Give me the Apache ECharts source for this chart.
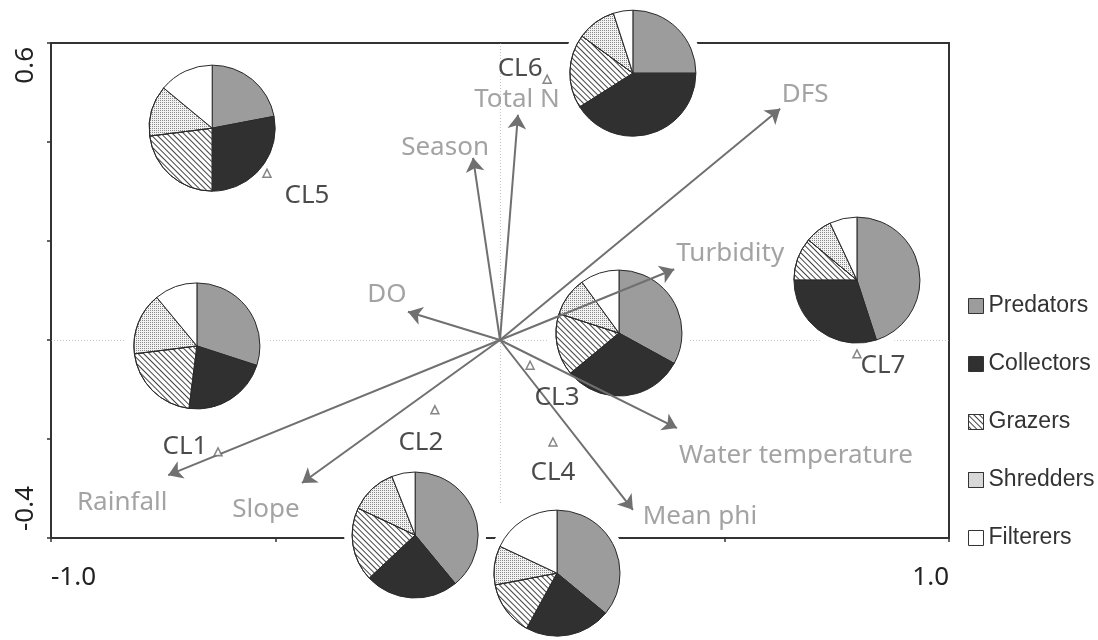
<!DOCTYPE html>
<html><head><meta charset="utf-8">
<script src="https://cdn.jsdelivr.net/npm/echarts@6/dist/echarts.min.js"></script>
<style>html,body{margin:0;padding:0;background:#fff}#c{width:1098px;height:640px}</style>
</head><body><div id="c"></div>
<script>
// ---------- data ----------
const groups = ['Predators', 'Collectors', 'Grazers', 'Shredders', 'Filterers'];
const clusters = ['CL1', 'CL2', 'CL3', 'CL4', 'CL5', 'CL6', 'CL7'];
const siteX = [-0.628, -0.145, 0.067, 0.118, -0.519, 0.105, 0.795];
const siteY = [-0.226, -0.141, -0.051, -0.206, 0.337, 0.527, -0.028];
const pieX = [-0.675, -0.189, 0.265, 0.127, -0.641, 0.296, 0.795];
const pieY = [-0.012, -0.394, 0.014, -0.471, 0.428, 0.539, 0.121];
const predators  = [30, 39, 33, 36, 22, 25, 45];
const collectors = [22, 24, 31, 22, 28, 41, 30];
const grazers    = [21, 19, 16, 14, 23, 19, 11];
const shredders  = [16, 12, 10, 10, 13, 10, 7];
const filterers  = [11, 6, 10, 18, 14, 5, 7];
const envNames = ['Season', 'Total N', 'DFS', 'Turbidity', 'DO', 'Water temperature', 'Mean phi', 'Rainfall', 'Slope'];
const envX = [-0.060, 0.040, 0.624, 0.388, -0.205, 0.394, 0.296, -0.739, -0.441];
const envY = [0.368, 0.455, 0.467, 0.143, 0.057, -0.178, -0.343, -0.273, -0.289];
const xTickLabels = [-1.0, 1.0];
const yTickLabels = [-0.4, 0.6];
const refLineH = [[-1, 0], [1, 0]];
const refLineV = [[0, 0.6], [0, -0.333]];

// ---------- styling (positions / sizes / colours) ----------
const envLabelOffset = {
  'Season': [-28, -10], 'Total N': [-1, -15], 'DFS': [25, -14], 'Turbidity': [56, -16],
  'DO': [-21, -17], 'Water temperature': [119, 27], 'Mean phi': [67, 7],
  'Rainfall': [-46, 27], 'Slope': [-36, 27]
};
const siteLabelOffset = {
  'CL1': [-33, -5], 'CL2': [-14, 33], 'CL3': [27, 32], 'CL4': [0, 31],
  'CL5': [40, 22], 'CL6': [-27, -11], 'CL7': [26, 12]
};
const FONT = 'Noto Sans';
const groupStyle = {
  Predators: { color: '#9c9c9c' },
  Collectors: { color: '#303030' },
  Grazers: { color: '#ffffff', decal: { symbol: 'rect', dashArrayX: [1, 0], dashArrayY: [1, 2.6], rotation: Math.PI / 4, color: '#444' } },
  Shredders: { color: '#f2f2f2', decal: { symbol: 'rect', dashArrayX: [1, 1], dashArrayY: [1, 1], color: '#8a8a8a' } },
  Filterers: { color: '#ffffff' }
};
const PIE_R = 63;

const chart = echarts.init(document.getElementById('c'), null, { renderer: 'canvas' });

function isIn(list, v) { return list.some(t => Math.abs(t - v) < 1e-9); }

const base = {
  animation: false,
  backgroundColor: '#fff',
  grid: { left: 51, right: 149, top: 43, bottom: 102, show: true, borderColor: '#333', borderWidth: 2, backgroundColor: 'transparent' },
  xAxis: {
    type: 'value', min: -1, max: 1, interval: 0.5,
    splitLine: { show: false },
    axisLine: { show: true, onZero: false, lineStyle: { color: '#333', width: 2 } },
    axisTick: { show: true, length: 4, lineStyle: { color: '#333', width: 1.5 } },
    axisLabel: { formatter: v => isIn(xTickLabels, v) ? v.toFixed(1) : '', fontFamily: FONT, fontSize: 26, color: '#222', margin: 27,
      alignMinLabel: 'left', alignMaxLabel: 'right' }
  },
  yAxis: {
    type: 'value', min: -0.4, max: 0.6, interval: 0.2,
    splitLine: { show: false },
    axisLine: { show: true, onZero: false, lineStyle: { color: '#333', width: 2 } },
    axisTick: { show: true, length: 4, lineStyle: { color: '#333', width: 1.5 } },
    axisLabel: {
      formatter: v => isIn(yTickLabels, v) ? (v < 0 ? '{lo|' + v.toFixed(1) + '}' : '{hi|' + v.toFixed(1) + '}') : '',
      fontFamily: FONT, fontSize: 26, color: '#222', margin: 12, rotate: 90,
      alignMinLabel: 'left', alignMaxLabel: 'right',
      rich: {
        lo: { fontFamily: FONT, fontSize: 26, color: '#222', padding: [0, 0, 0, 7] },
        hi: { fontFamily: FONT, fontSize: 26, color: '#222', padding: [0, 4, 0, 0] }
      }
    }
  },
  legend: {
    data: groups, orient: 'vertical', left: 963, top: 289, icon: 'rect',
    itemWidth: 15, itemHeight: 15, itemGap: 34,
    textStyle: { fontFamily: 'Liberation Sans', fontSize: 23, color: '#333', lineHeight: 24 },
    itemStyle: { borderColor: '#333', borderWidth: 1 }
  },
  series: []
};
chart.setOption(base);

const series = [];
// dotted reference lines
series.push({
  type: 'lines', coordinateSystem: 'cartesian2d', z: 1, silent: true,
  lineStyle: { color: '#8a8a8a', width: 1, type: [1, 2] },
  data: [{ coords: refLineH }, { coords: refLineV }]
});
// pies with white halo
clusters.forEach((cl, i) => {
  const c = chart.convertToPixel({ gridIndex: 0 }, [pieX[i], pieY[i]]);
  series.push({
    type: 'pie', center: c, radius: PIE_R + 8, z: 2, silent: true,
    label: { show: false }, labelLine: { show: false }, legendHoverLink: false,
    itemStyle: { color: '#fff', borderWidth: 0 },
    data: [{ name: 'halo', value: 1 }]
  });
  const vals = [predators[i], collectors[i], grazers[i], shredders[i], filterers[i]];
  series.push({
    type: 'pie', name: cl, center: c, radius: PIE_R, z: 3, silent: true,
    startAngle: 90, clockwise: true,
    label: { show: false }, labelLine: { show: false },
    itemStyle: { borderColor: '#2a2a2a', borderWidth: 1 },
    emphasis: { disabled: true },
    data: groups.map((g, k) => ({ name: g, value: vals[k], itemStyle: groupStyle[g] }))
  });
});
// arrows
series.push({
  type: 'lines', coordinateSystem: 'cartesian2d', z: 4, silent: true,
  symbol: ['none', 'arrow'], symbolSize: 14,
  lineStyle: { color: '#707070', width: 2, opacity: 1 },
  data: envNames.map((n, k) => ({ coords: [[0, 0], [envX[k], envY[k]]] }))
});
// arrow labels
series.push({
  type: 'scatter', z: 5, silent: true, symbolSize: 0,
  data: envNames.map((n, k) => ({
    name: n, value: [envX[k], envY[k]],
    label: { offset: envLabelOffset[n] }
  })),
  label: { show: true, position: 'inside', formatter: p => p.name, fontFamily: FONT, fontSize: 26, color: '#8c8c8c' }
});
// site triangles
series.push({
  type: 'scatter', z: 6, silent: true, symbol: 'triangle', symbolSize: 8,
  itemStyle: { color: '#fff', borderColor: '#666', borderWidth: 1.5 },
  data: clusters.map((n, k) => ({
    name: n, value: [siteX[k], siteY[k]],
    label: { offset: siteLabelOffset[n] }
  })),
  label: { show: true, position: 'inside', formatter: p => p.name, fontFamily: FONT, fontSize: 26, color: '#1e1e1e' }
});
chart.setOption({ series: series });
</script>
</body></html>
